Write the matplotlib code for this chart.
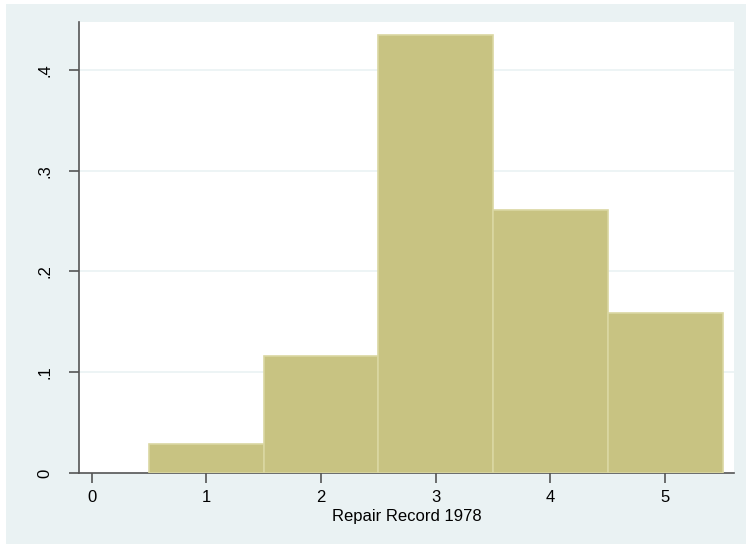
import numpy as np
import matplotlib.pyplot as plt
from matplotlib.patches import Rectangle

plt.rcParams['font.family'] = ['Liberation Sans', 'DejaVu Sans']

# rep78 categories and their density
repair = [1, 2, 3, 4, 5]
density = [0.029, 0.116, 0.435, 0.261, 0.159]
yticks = [0, 0.1, 0.2, 0.3, 0.4]
ylabels = ["0", ".1", ".2", ".3", ".4"]
xticks = [0, 1, 2, 3, 4, 5]

W, H = 746, 544
bg = "#EAF2F3"
fig = plt.figure(figsize=(W / 100, H / 100), dpi=100)
fig.patch.set_facecolor(bg)
# thin white strips along the left and top edges
fig.add_artist(Rectangle((0, 0), 6 / W, 1, linewidth=0, facecolor="white",
                         transform=fig.transFigure, zorder=-5))
fig.add_artist(Rectangle((0, 1 - 4 / H), 1, 4 / H, linewidth=0, facecolor="white",
                         transform=fig.transFigure, zorder=-5))

left, right, top, bottom = 79, 734, 22, 473
ax = fig.add_axes([left / W, 1 - bottom / H, (right - left) / W, (bottom - top) / H])
ax.set_facecolor("white")

ax.bar(repair, density, width=1.0, color="#C8C382", edgecolor="#DAD7A2",
       linewidth=1.2, zorder=3)

ax.set_xlim(-0.11, 5.6)
ax.set_ylim(0, 0.4476)
ax.set_yticks(yticks)
ax.set_yticklabels(ylabels, rotation=90, va="center")
ax.set_xticks(xticks)
ax.set_xticklabels([str(v) for v in xticks])
for t in yticks[1:]:
    ax.axhline(t, color=bg, lw=1.2, zorder=1)

for s in ["top", "right"]:
    ax.spines[s].set_visible(False)
for s in ["left", "bottom"]:
    ax.spines[s].set_color("#555555")
    ax.spines[s].set_linewidth(1.2)
ax.tick_params(axis="both", direction="out", length=7, width=1.2,
               color="#555555", labelsize=12)
ax.tick_params(axis="x", pad=5)
ax.tick_params(axis="y", pad=12)
ax.set_xlabel("Repair Record 1978", fontsize=12, labelpad=3)

fig.savefig("out.png", dpi=100, facecolor=fig.get_facecolor())
